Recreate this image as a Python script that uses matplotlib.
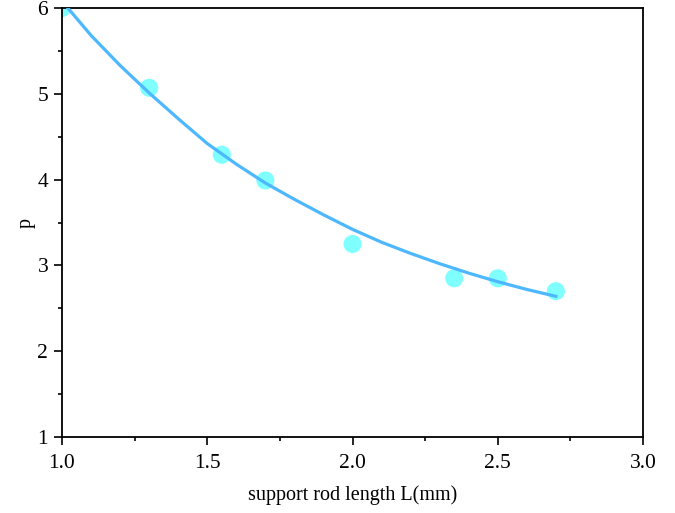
import numpy as np
import matplotlib.pyplot as plt
from matplotlib.ticker import MultipleLocator

# Measured points
length = [1.0, 1.3, 1.55, 1.7, 2.0, 2.35, 2.5, 2.7]
p_vals = [6.0, 5.07, 4.29, 3.99, 3.25, 2.85, 2.85, 2.70]

# Fitted curve
fit_x = [1.02, 1.1, 1.2, 1.3, 1.4, 1.5, 1.6, 1.7, 1.8, 1.9, 2.0,
         2.1, 2.2, 2.3, 2.4, 2.5, 2.6, 2.7]
fit_y = [6.00, 5.68, 5.33, 5.01, 4.71, 4.42, 4.18, 3.96, 3.77, 3.59, 3.42,
         3.27, 3.14, 3.02, 2.91, 2.81, 2.72, 2.64]

plt.rcParams['font.family'] = ['Liberation Serif', 'DejaVu Serif']

fig = plt.figure(figsize=(6.75, 5.13), dpi=100)
ax = fig.add_axes([0.0919, 0.1481, 0.8607, 0.8363])

ax.scatter(length, p_vals, s=170, color='#80FFFF', edgecolors='none', zorder=2)
ax.plot(fit_x, fit_y, color='#4DB8FF', lw=2.3, zorder=3)

ax.set_xlim(1.0, 3.0)
ax.set_ylim(1, 6)
ax.xaxis.set_major_locator(MultipleLocator(0.5))
ax.xaxis.set_minor_locator(MultipleLocator(0.25))
ax.yaxis.set_major_locator(MultipleLocator(1))
ax.yaxis.set_minor_locator(MultipleLocator(0.5))
ax.tick_params(which='major', direction='out', length=6, width=1.2,
               labelsize=15.5, pad=4)
ax.tick_params(axis='x', which='major', pad=6)
ax.tick_params(which='minor', direction='out', length=3, width=1.2)
for s in ax.spines.values():
    s.set_linewidth(1.3)

ax.set_xlabel('support rod length L(mm)', fontsize=14.5, labelpad=9)
ax.set_ylabel('p', fontsize=14.5, labelpad=1)

fig.savefig('out.png', dpi=100)
